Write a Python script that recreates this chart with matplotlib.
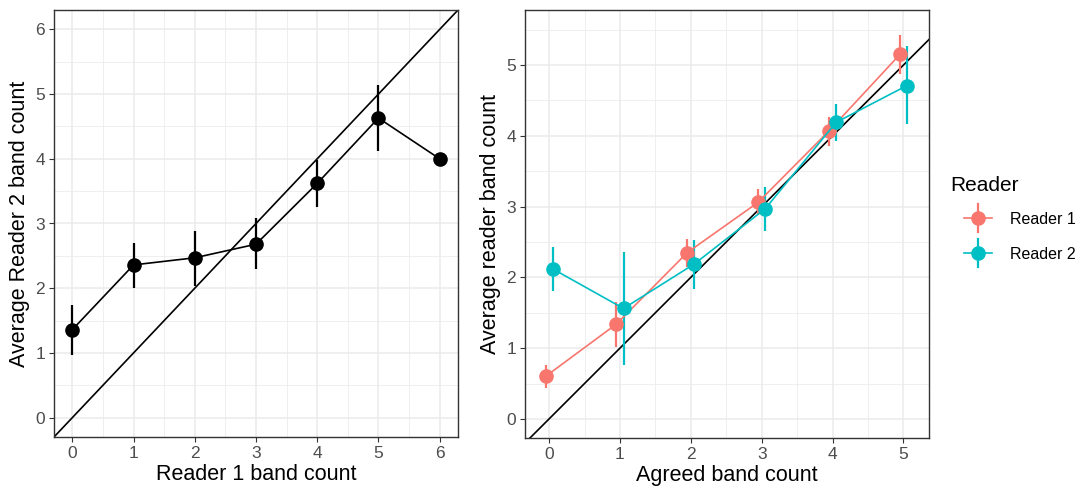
import matplotlib.pyplot as plt
import numpy as np
from matplotlib.legend_handler import HandlerBase
from matplotlib.lines import Line2D

plt.rcParams['font.family'] = ['Liberation Sans', 'DejaVu Sans']

# left panel: reader 2 average vs reader 1 count
r1_count = [0, 1, 2, 3, 4, 5, 6]
r2_mean = [1.36, 2.36, 2.47, 2.68, 3.62, 4.63, 4.00]
r2_lo = [0.97, 2.01, 2.04, 2.29, 3.25, 4.12, 4.00]
r2_hi = [1.74, 2.70, 2.89, 3.08, 3.98, 5.14, 4.00]

# right panel: each reader vs agreed count
agreed = [0, 1, 2, 3, 4, 5]
reader1_mean = [0.60, 1.34, 2.35, 3.06, 4.07, 5.15]
reader1_lo = [0.44, 1.01, 2.15, 2.88, 3.86, 4.87]
reader1_hi = [0.76, 1.65, 2.54, 3.25, 4.27, 5.42]
reader2_mean = [2.12, 1.56, 2.19, 2.97, 4.19, 4.71]
reader2_lo = [1.80, 0.76, 1.84, 2.66, 3.92, 4.16]
reader2_hi = [2.43, 2.36, 2.53, 3.28, 4.45, 5.27]

readers = ['Reader 1', 'Reader 2']
colors = ['#F8766D', '#00BFC4']

W, H = 1081, 494
fig = plt.figure(figsize=(W / 100, H / 100), dpi=100)
ax1 = fig.add_axes([54 / W, (H - 437) / H, 404 / W, 427 / H])
ax2 = fig.add_axes([525 / W, (H - 438) / H, 404 / W, 427.5 / H])


def style(ax):
    ax.set_facecolor('white')
    ax.grid(True, which='major', color='#EBEBEB', lw=1.1, zorder=0)
    ax.grid(True, which='minor', color='#EBEBEB', lw=0.55, zorder=0)
    ax.set_axisbelow(True)
    for s in ax.spines.values():
        s.set_color('#333333')
        s.set_linewidth(1.0)
    ax.tick_params(which='major', length=3.5, width=0.8, color='#333333',
                   labelsize=12.5, labelcolor='#4D4D4D', pad=3)
    ax.tick_params(which='minor', length=0)


def errbars(ax, x, y, lo, hi, color):
    y = np.array(y)
    yerr = [y - np.array(lo), np.array(hi) - y]
    return ax.errorbar(x, y, yerr=yerr, fmt='-o', color=color, ms=9.5,
                       lw=1.2, elinewidth=1.6, capsize=0, zorder=3)


class CrossKey(HandlerBase):
    # ggplot-style key: horizontal path line, vertical error bar, point
    def create_artists(self, legend, orig, xd, yd, width, height, fontsize, trans):
        c = orig.get_color()
        kw = width * 2 / 3
        x0 = xd + width - kw
        cx, cy = x0 + kw / 2, 0.36 * fontsize
        h = Line2D([x0, x0 + kw], [cy, cy], color=c, lw=1.2, transform=trans)
        v = Line2D([cx, cx], [cy - kw / 2, cy + kw / 2], color=c, lw=1.6,
                   transform=trans)
        p = Line2D([cx], [cy], marker='o', ms=9.5, color=c, lw=0, transform=trans)
        return [h, v, p]


# left
style(ax1)
ax1.axline((0, 0), slope=1, color='black', lw=1.2, zorder=2)
errbars(ax1, r1_count, r2_mean, r2_lo, r2_hi, 'black')
ax1.set_xlim(-0.3, 6.3)
ax1.set_ylim(-0.3, 6.3)
ax1.set_xticks(range(0, 7))
ax1.set_yticks(range(0, 7))
ax1.set_xticks(np.arange(0.5, 6, 1), minor=True)
ax1.set_yticks(np.arange(0.5, 6.5, 1), minor=True)
ax1.set_xlabel('Reader 1 band count', fontsize=15.5, labelpad=2)
ax1.set_ylabel('Average Reader 2 band count', fontsize=15.5, labelpad=4)

# right
style(ax2)
ax2.axline((0, 0), slope=1, color='black', lw=1.2, zorder=2)
handles = []
for i, (m, lo, hi) in enumerate([(reader1_mean, reader1_lo, reader1_hi),
                                  (reader2_mean, reader2_lo, reader2_hi)]):
    off = -0.05 if i == 0 else 0.05
    errbars(ax2, np.array(agreed) + off, m, lo, hi, colors[i])
    handles.append(Line2D([], [], color=colors[i]))
ax2.set_xlim(-0.34, 5.36)
ax2.set_ylim(-0.27, 5.77)
ax2.set_xticks(range(0, 6))
ax2.set_yticks(range(0, 6))
ax2.set_xticks(np.arange(0.5, 5.5, 1), minor=True)
ax2.set_yticks(np.arange(0.5, 6, 1), minor=True)
ax2.set_xlabel('Agreed band count', fontsize=15.5, labelpad=2)
ax2.set_ylabel('Average reader band count', fontsize=15.5, labelpad=4)

leg = fig.legend(handles, readers, title='Reader', loc='upper left',
                 bbox_to_anchor=(936 / W, 1 - 162 / H), frameon=False,
                 fontsize=11.5, title_fontsize=15, handlelength=2.63,
                 handleheight=1.8, labelspacing=0.76, handletextpad=1.13,
                 handler_map={Line2D: CrossKey()})
leg._legend_box.align = 'left'

fig.savefig('out.png', dpi=100)
